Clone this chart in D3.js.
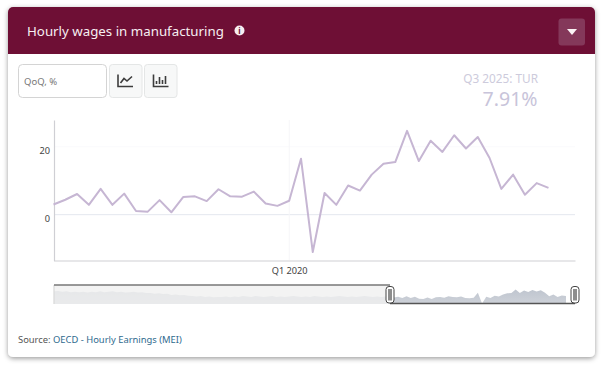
<!DOCTYPE html>
<html>
<head>
<meta charset="utf-8">
<script src="https://cdn.jsdelivr.net/npm/d3@7"></script>
<style>
  html, body { margin: 0; padding: 0; background: #fff; overflow: hidden; }
  svg { display: block; font-family: "Noto Sans", sans-serif; }
  .tick text { font-family: "Noto Sans", sans-serif; fill: #444; }
</style>
</head>
<body>
<div id="chart"></div>
<script>
// quarterly values, Q1 2015 .. Q3 2025
var values = [3.0, 4.4, 6.1, 2.9, 7.6, 2.9, 6.2, 1.1, 0.9, 4.3, 0.7, 5.2, 5.4, 4.0, 7.5, 5.4, 5.3, 6.8, 3.3, 2.6, 4.1,
              16.5, -11.0, 6.4, 2.9, 8.6, 7.1, 11.8, 15.0, 15.5, 24.7, 15.8, 21.8, 18.5, 23.4, 19.5, 22.9, 16.7, 7.6, 11.8, 5.9, 9.3, 7.91];

// earlier quarters, only visible in the navigator
var earlierValues = [20, 21, 19, 20, 18, 19, 18, 19, 17, 19, 18, 20, 18, 19, 20, 18, 19, 17, 18, 19,
                     17, 18, 16, 16, 14, 15, 13, 14, 11, 12, 10, 11, 9, 8, 7, 8, 6, 7, 5, 6,
                     6, 7, 5, 7, 6, 8, 7, 6, 8, 7, 6, 7, 8, 6, 7, 6, 7, 8, 7, 6,
                     7, 6, 8, 7, 6, 7, 6, 7, 8, 7, 6, 7, 6, 7, 8, 7, 6, 7, 6, 7];

var yTicks = [0, 20];
var xTickIndex = [20];
var xTickLabels = ["Q1 2020"];

var width = 605, height = 366;

var svg = d3.select("#chart").append("svg")
    .attr("width", width)
    .attr("height", height);

//card and header
var defs = svg.append("defs");
var shadow = defs.append("filter").attr("id", "cardShadow")
    .attr("x", "-5%").attr("y", "-5%").attr("width", "110%").attr("height", "110%");
shadow.append("feDropShadow").attr("dx", 0).attr("dy", 1.5).attr("stdDeviation", 2.5)
    .attr("flood-color", "#000").attr("flood-opacity", 0.4);

svg.append("rect")
    .attr("x", 8).attr("y", 7).attr("width", 587).attr("height", 350).attr("rx", 5)
    .attr("fill", "#fff")
    .attr("filter", "url(#cardShadow)");

svg.append("path")
    .attr("d", "M8,54V12a5,5 0 0 1 5,-5H590a5,5 0 0 1 5,5V54Z")
    .attr("fill", "#6e0f35");

svg.append("text")
    .attr("x", 27).attr("y", 35.5)
    .attr("font-size", 13.3).attr("fill", "#f6eef1")
    .text("Hourly wages in manufacturing");

svg.append("circle").attr("cx", 239.5).attr("cy", 30.5).attr("r", 5).attr("fill", "#f6eef1");
svg.append("text")
    .attr("x", 239.5).attr("y", 33.5)
    .attr("text-anchor", "middle").attr("font-size", 8).attr("font-weight", "bold").attr("fill", "#6e0f35")
    .text("i");

svg.append("rect").attr("x", 558.5).attr("y", 18.5).attr("width", 26.5).attr("height", 27).attr("rx", 3).attr("fill", "#84385a");
svg.append("path").attr("d", "M567,29H577L572,35Z").attr("fill", "#fbf4f6");

//controls
svg.append("rect")
    .attr("x", 18.5).attr("y", 64.5).attr("width", 88).attr("height", 33).attr("rx", 4)
    .attr("fill", "#fff").attr("stroke", "#d4d4d4");
svg.append("text").attr("x", 24).attr("y", 85).attr("font-size", 9.5).attr("fill", "#777").text("QoQ, %");

svg.selectAll(".btn").data([109.5, 144.5]).enter().append("rect")
    .attr("class", "btn")
    .attr("x", d => d).attr("y", 64.5).attr("width", 32.5).attr("height", 33).attr("rx", 3)
    .attr("fill", "#f7f8f8").attr("stroke", "#e4e6e6");

svg.append("path")
    .attr("d", "M118,74.5V86.5H133M120.5,83L124,78.5L127,81L132,76.5")
    .attr("fill", "none").attr("stroke", "#3c3c3c").attr("stroke-width", 1.6);
svg.append("path")
    .attr("d", "M153.5,74.5V86.5H168.5M156.5,84V81M159.5,84V77M162.5,84V80M165.5,84V76")
    .attr("fill", "none").attr("stroke", "#3c3c3c").attr("stroke-width", 1.6);

//latest value
svg.append("text")
    .attr("x", 538).attr("y", 82.5).attr("text-anchor", "end")
    .attr("font-size", 11.8).attr("fill", "#cdcbdc")
    .text("Q3 2025: TUR");
svg.append("text")
    .attr("x", 537.5).attr("y", 106).attr("text-anchor", "end")
    .attr("font-size", 19.5).attr("fill", "#c8c4da")
    .text("7.91%");

//main chart scales
var scaleX = d3.scaleLinear().domain([0, 44.25]).range([53.5, 575]);
var scaleY = d3.scaleLinear().domain([-13.5, 27.9]).range([260.5, 120]);

// faint grid
svg.selectAll(".gridY").data(yTicks).enter().append("line")
    .attr("class", "gridY")
    .attr("x1", 54).attr("x2", 575)
    .attr("y1", d => scaleY(d)).attr("y2", d => scaleY(d))
    .attr("stroke", d => d == 0 ? "#e4e7ef" : "#fafafc");

svg.selectAll(".gridX").data(xTickIndex).enter().append("line")
    .attr("class", "gridX")
    .attr("x1", d => scaleX(d)).attr("x2", d => scaleX(d))
    .attr("y1", 120).attr("y2", 260)
    .attr("stroke", "#f6f6f8");

//axes
var axisY = svg.append("g")
    .attr("transform", "translate(54,0)")
    .call(d3.axisLeft(scaleY).tickValues(yTicks).tickSize(0).tickPadding(4));
axisY.select(".domain").attr("stroke", "#cfcfd4").attr("stroke-width", 1.2);
axisY.selectAll("text").attr("font-size", 9.2).attr("dy", "0.7em");

var axisX = svg.append("g")
    .attr("transform", "translate(0,260.5)")
    .call(d3.axisBottom(scaleX).tickValues(xTickIndex).tickFormat((d, i) => xTickLabels[i]).tickSize(0).tickPadding(7));
axisX.select(".domain").attr("stroke", "#cfcfd4").attr("stroke-width", 1.2);
axisX.selectAll("text").attr("font-size", 9.2);

//line
var line = d3.line()
    .x((d, i) => scaleX(i))
    .y(d => scaleY(d));

svg.append("path")
    .datum(values)
    .attr("d", line)
    .attr("fill", "none")
    .attr("stroke", "#c6b6d3")
    .attr("stroke-width", 2)
    .attr("stroke-linejoin", "round");

//navigator
var navData = earlierValues.concat(values);
var navTop = 285, navBottom = 304, navLeft = 54, navRight = 575, navSplit = 390;
var navX = d3.scaleLinear().domain([0, navData.length - 1]).range([navLeft, 566]);
var navY = d3.scaleLinear().domain([-12, 36]).range([navBottom, navTop]);

var grad = defs.append("linearGradient").attr("id", "navFill").attr("x1", 0).attr("x2", 0).attr("y1", 0).attr("y2", 1);
grad.append("stop").attr("offset", "0%").attr("stop-color", "#bfc5cf");
grad.append("stop").attr("offset", "100%").attr("stop-color", "#ced2d9");

var navArea = d3.area()
    .x((d, i) => navX(i))
    .y0(navBottom)
    .y1(d => navY(d));

svg.append("path")
    .datum(navData)
    .attr("d", navArea)
    .attr("fill", "url(#navFill)");

// unselected part is masked
svg.append("rect")
    .attr("x", navLeft).attr("y", navTop).attr("width", navSplit - navLeft).attr("height", navBottom - navTop)
    .attr("fill", "#f0f0f0").attr("fill-opacity", 0.8);

svg.append("line")
    .attr("x1", navLeft).attr("x2", navLeft).attr("y1", navTop).attr("y2", navBottom)
    .attr("stroke", "#d8d8d8").attr("stroke-width", 1.2);
svg.append("line")
    .attr("x1", navLeft).attr("x2", navSplit).attr("y1", navTop).attr("y2", navTop)
    .attr("stroke", "#777").attr("stroke-width", 1.3);
svg.append("line")
    .attr("x1", navSplit).attr("x2", navRight).attr("y1", navBottom - 0.5).attr("y2", navBottom - 0.5)
    .attr("stroke", "#555").attr("stroke-width", 1.3);

var handles = svg.selectAll(".handle").data([navSplit, navRight]).enter().append("g")
    .attr("class", "handle")
    .attr("transform", d => "translate(" + d + ",0)");
handles.append("rect")
    .attr("x", -4).attr("y", 286.5).attr("width", 8).attr("height", 16.5).attr("rx", 3)
    .attr("fill", "#fff").attr("stroke", "#444").attr("stroke-width", 1);
handles.append("rect")
    .attr("x", -2).attr("y", 289).attr("width", 4).attr("height", 11.5)
    .attr("fill", "#8d8d8d");

//source
var source = svg.append("text").attr("x", 18).attr("y", 343).attr("font-size", 9.4).attr("fill", "#555");
source.append("tspan").text("Source: ");
source.append("tspan").attr("fill", "#2f6a8e").text("OECD - Hourly Earnings (MEI)");
</script>
</body>
</html>
